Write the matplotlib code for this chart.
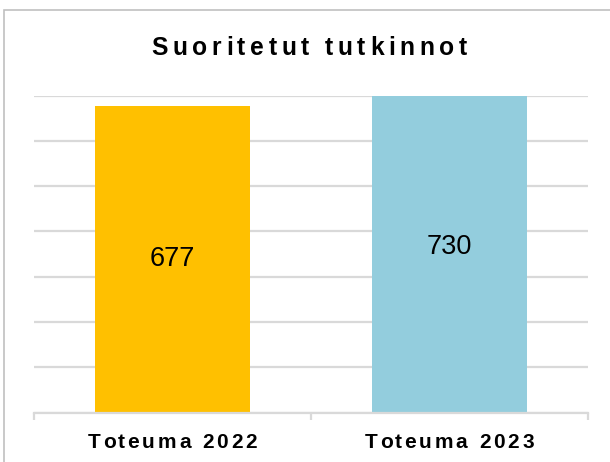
import matplotlib
matplotlib.use('Agg')
import matplotlib.pyplot as plt
from matplotlib.font_manager import FontProperties
from matplotlib.patches import Rectangle

categories = ['Toteuma 2022', 'Toteuma 2023']
values = [677, 730]
colors = ['#FFC000', '#93CDDD']
title = 'Suoritetut tutkinnot'

W, H, DPI = 610, 462, 100


def spaced_text(fig, cx, base_y, s, spacing, prop):
    # matplotlib has no letter-spacing, so place the characters one by one
    r = fig.canvas.get_renderer()

    def width(t):
        w0 = r.get_text_width_height_descent('|', prop, ismath=False)[0]
        w1 = r.get_text_width_height_descent(t + '|', prop, ismath=False)[0]
        return w1 - w0

    total = width(s) + spacing * (len(s) - 1)
    x0 = cx - total / 2
    for i, ch in enumerate(s):
        if ch == ' ':
            continue
        x = x0 + width(s[:i]) + spacing * i
        fig.text(x / W, 1 - base_y / H, ch, fontproperties=prop,
                 ha='left', va='baseline', color='black')


def main():
    fig = plt.figure(figsize=(W / DPI, H / DPI), dpi=DPI)
    ax = fig.add_axes([34 / W, 1 - 412.5 / H, (587.7 - 34) / W, (412.5 - 95.5) / H])

    x = range(len(categories))
    ax.bar(x, values, width=0.56, color=colors, zorder=2)
    ax.set_xlim(-0.5, 1.5)
    ax.set_ylim(0, 700)
    ax.set_yticks(range(0, 701, 100))
    ax.grid(axis='y', color='#d9d9d9', linewidth=1.6, zorder=0)
    ax.tick_params(axis='y', length=0, labelleft=False)
    ax.set_xticks([])
    ax.set_xticks([-0.5, 0.5, 1.5], minor=True)
    ax.tick_params(axis='x', which='minor', length=5, width=1.6, color='#d9d9d9')
    for s in ['top', 'right', 'left']:
        ax.spines[s].set_visible(False)
    ax.spines['bottom'].set_color('#d9d9d9')
    ax.spines['bottom'].set_linewidth(1.6)

    for i, v in enumerate(values):
        ax.text(i, v / 2, str(v), ha='center', va='center', fontsize=19.5,
                family=['Liberation Sans', 'DejaVu Sans'], color='black', zorder=3)

    # outer frame of the chart area
    fig.patches.append(Rectangle((4 / W, -0.1), 1.2, 1.1 - 9.5 / H, transform=fig.transFigure,
                                 fill=False, edgecolor='#c0c0c0', linewidth=1.2))

    tprop = FontProperties(family=['Liberation Sans', 'DejaVu Sans'], weight='bold', size=17.7)
    spaced_text(fig, 309, 55, title, 4.6, tprop)

    lprop = FontProperties(family=['Liberation Sans', 'DejaVu Sans'], weight='bold', size=15)
    centers = ax.transData.transform([(i, 0) for i in x])
    for (px, _), lab in zip(centers, categories):
        spaced_text(fig, px, 447.7, lab, 2.8, lprop)

    fig.savefig('out.png', dpi=DPI)


if __name__ == '__main__':
    main()
